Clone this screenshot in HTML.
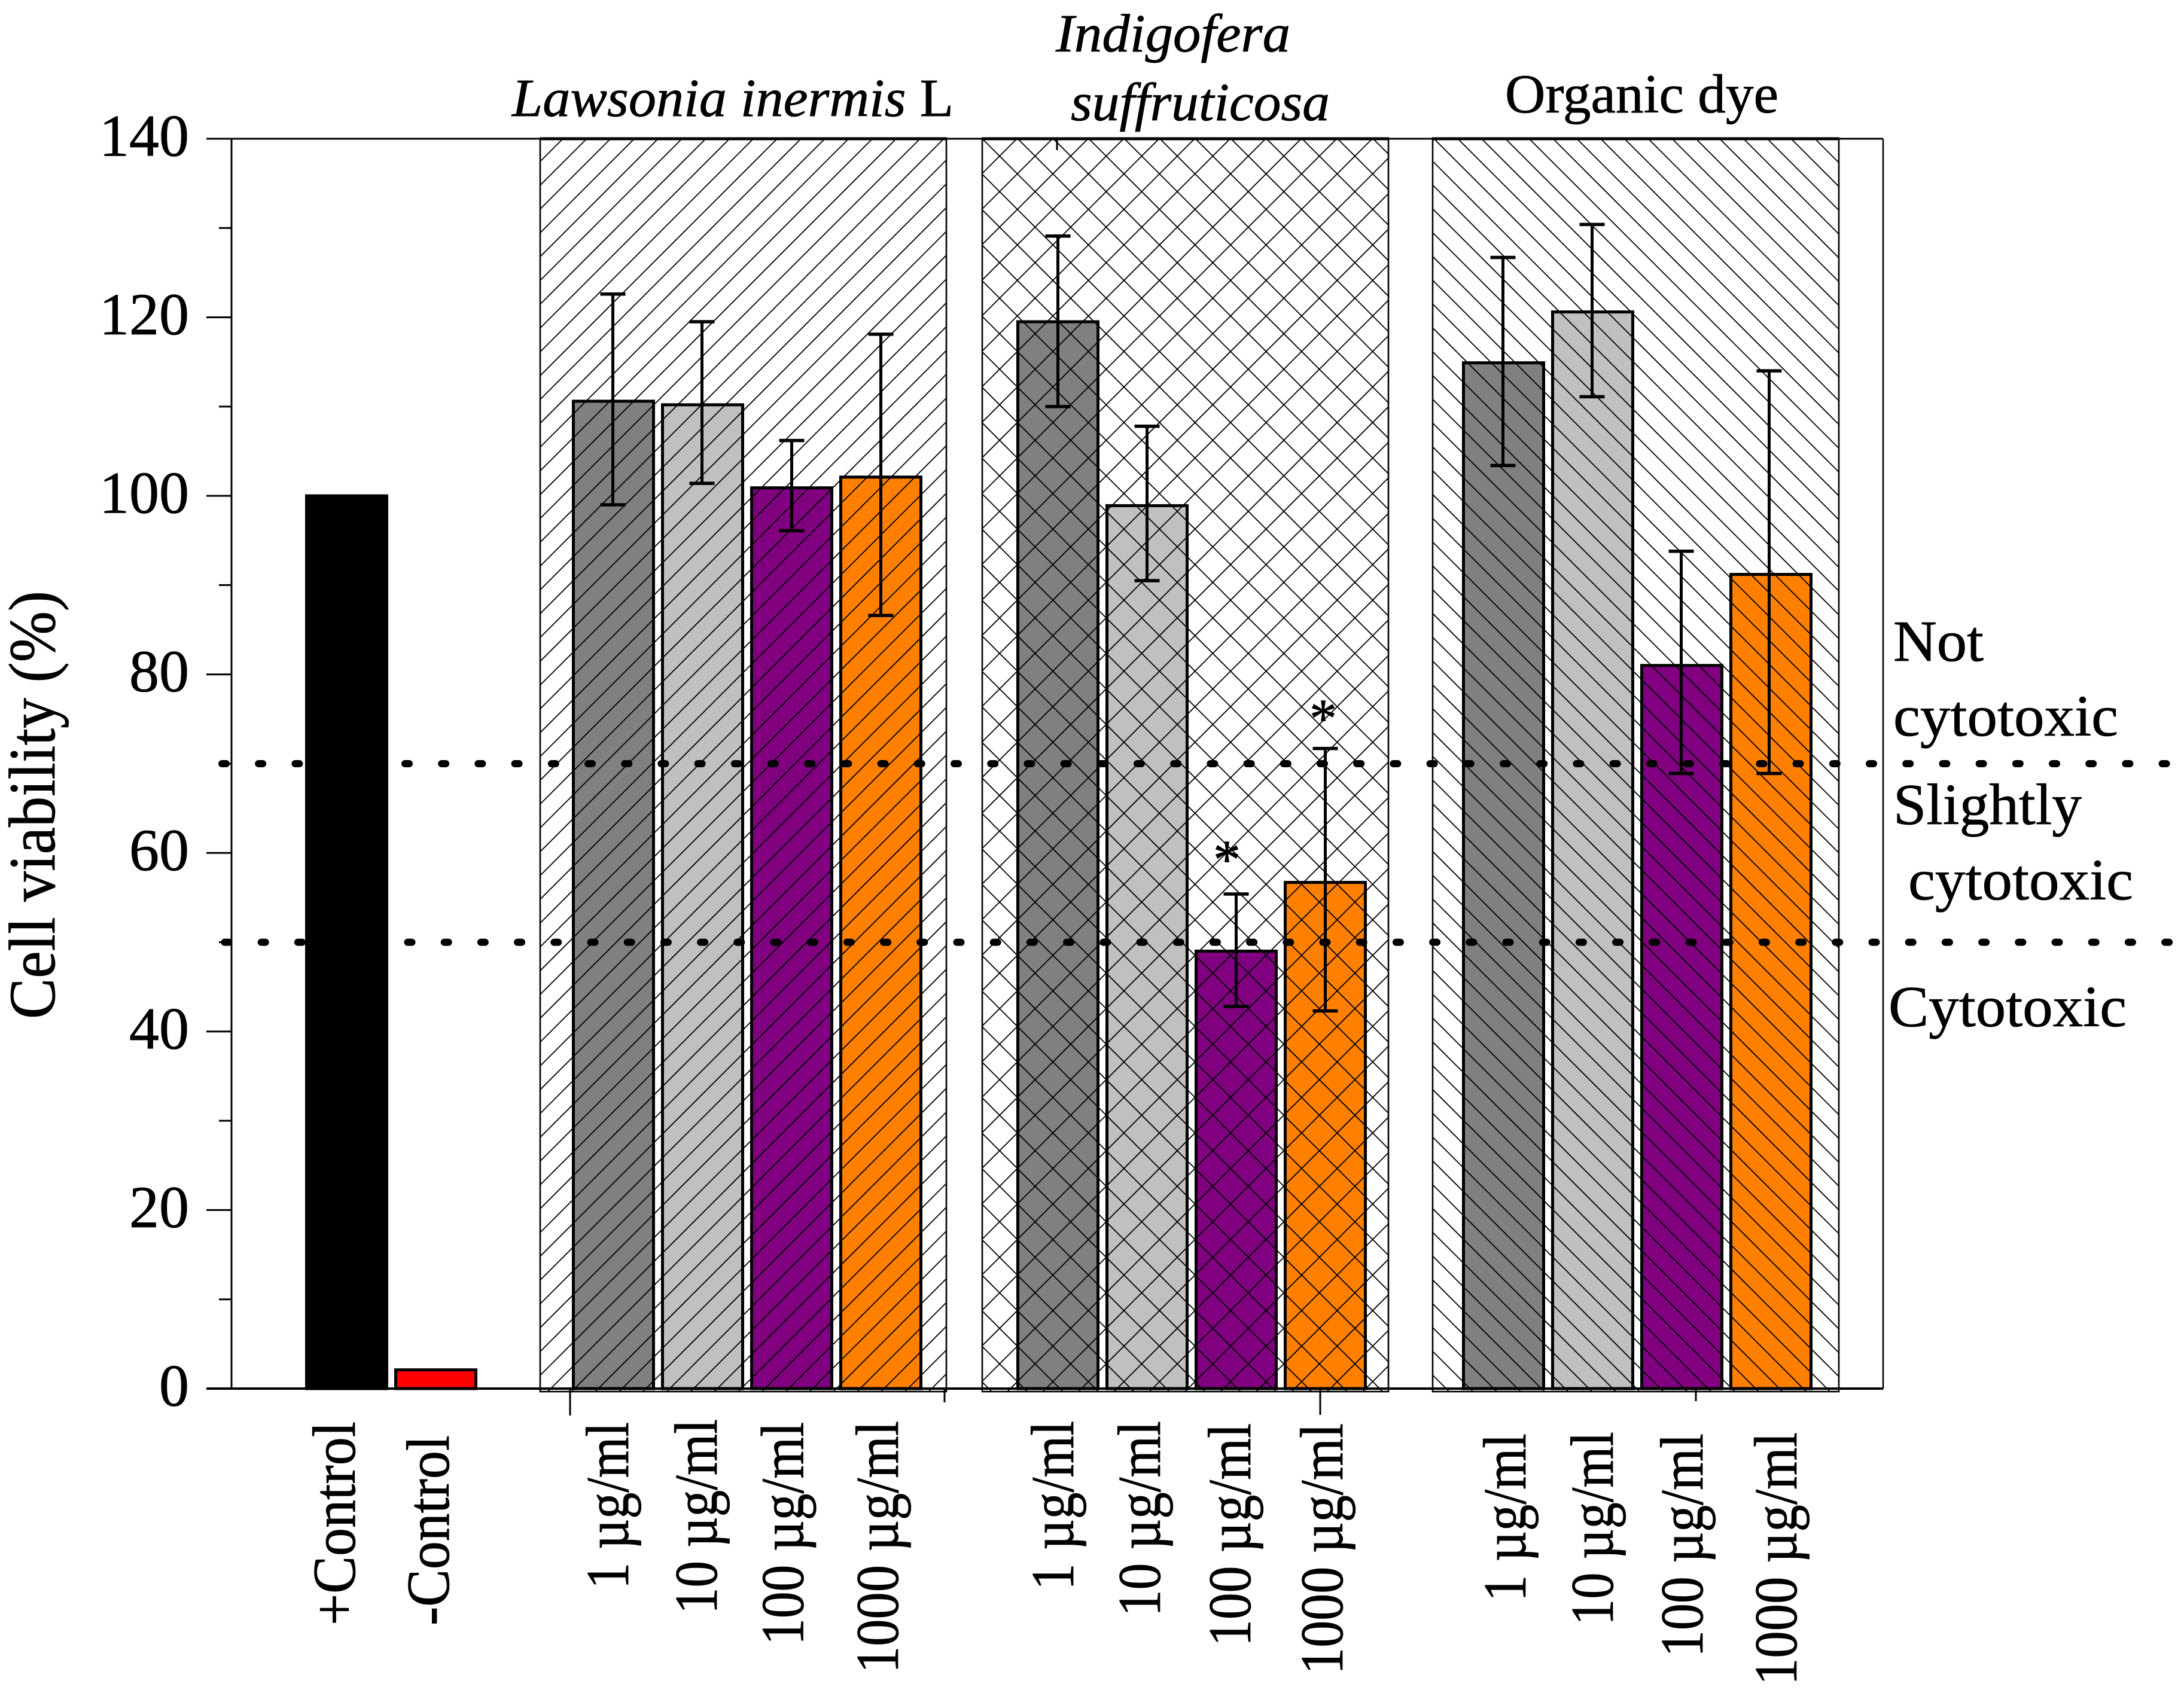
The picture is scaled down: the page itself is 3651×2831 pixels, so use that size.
<!DOCTYPE html>
<html lang="en">
<head>
<meta charset="utf-8">
<title>Cell viability chart</title>
<style>
  html, body { margin: 0; padding: 0; background: #fff; }
  svg { display: block; }
  text { font-family: "Liberation Serif", serif; fill: #000; stroke: #000; stroke-width: 0.8px; }
</style>
</head>
<body>
<svg id="chart" xmlns="http://www.w3.org/2000/svg" width="3651" height="2831" viewBox="0 0 3651 2831">
  <rect x="0" y="0" width="3651" height="2831" fill="#fff"/>
  <defs>
    <clipPath id="clip-0"><rect x="902" y="232" width="681" height="2095"/></clipPath>
    <clipPath id="clip-1"><rect x="1641" y="232" width="681" height="2095"/></clipPath>
    <clipPath id="clip-2"><rect x="2394" y="232" width="681" height="2095"/></clipPath>
  </defs>
  <g id="layer-bars"></g>
  <g id="layer-hatch"></g>
  <g id="layer-axes"></g>
  <g id="layer-err"></g>
  <g id="layer-thresholds"></g>
  <g id="layer-labels"></g>

  <text x="91" y="1704" font-size="110" textLength="716" lengthAdjust="spacingAndGlyphs" transform="rotate(-90 91 1704)">Cell viability (%)</text>

  <text x="856" y="194" font-size="90" textLength="738" lengthAdjust="spacingAndGlyphs"><tspan font-style="italic">Lawsonia inermis </tspan><tspan>L</tspan></text>
  <text x="1765" y="86" font-size="90" font-style="italic" textLength="392" lengthAdjust="spacingAndGlyphs">Indigofera</text>
  <text x="1790" y="201" font-size="90" font-style="italic" textLength="433" lengthAdjust="spacingAndGlyphs">suffruticosa</text>
  <text x="2516" y="188" font-size="92" textLength="457" lengthAdjust="spacingAndGlyphs">Organic dye</text>

  <text x="3165" y="1105" font-size="98" textLength="151" lengthAdjust="spacingAndGlyphs">Not</text>
  <text x="3165" y="1230" font-size="98" textLength="376" lengthAdjust="spacingAndGlyphs">cytotoxic</text>
  <text x="3165" y="1378" font-size="98" textLength="315" lengthAdjust="spacingAndGlyphs">Slightly</text>
  <text x="3190" y="1504" font-size="98" textLength="376" lengthAdjust="spacingAndGlyphs">cytotoxic</text>
  <text x="3157" y="1716" font-size="98" textLength="398" lengthAdjust="spacingAndGlyphs">Cytotoxic</text>

  <text x="2051" y="1468" font-size="92" text-anchor="middle">*</text>
  <text x="2212" y="1232" font-size="92" text-anchor="middle">*</text>
</svg>

<script>
// ---- chart data ----
const controlLabels = ['+Control', '-Control'];
const controlValues = [100, 2.1];
const doseLabels = ['1 µg/ml', '10 µg/ml', '100 µg/ml', '1000 µg/ml'];
const groupNames = ['lawsonia', 'indigofera', 'organic-dye'];
const lawsoniaMeans = [110.6, 110.2, 100.9, 102.1];
const lawsoniaHigh = [122.6, 119.5, 106.2, 118.1];
const lawsoniaLow = [99.0, 101.4, 96.1, 86.6];
const indigoferaMeans = [119.5, 98.9, 49.0, 56.7];
const indigoferaHigh = [129.1, 107.8, 55.4, 71.7];
const indigoferaLow = [110.0, 90.5, 42.8, 42.3];
const organicMeans = [114.9, 120.6, 81.0, 91.2];
const organicHigh = [126.7, 130.4, 93.8, 114.0];
const organicLow = [103.4, 111.1, 68.9, 68.9];
const yMajorTicks = [0, 20, 40, 60, 80, 100, 120, 140];
const yMinorTicks = [10, 30, 50, 70, 90, 110, 130];
const thresholds = [70, 50];
const barColors = ['#808080', '#c0c0c0', '#800080', '#ff8000'];
const controlColors = ['#000000', '#ff0000'];

// ---- axis functions and layout ----
const plotLeft = 387, plotRight = 3148, plotTop = 232, plotBottom = 2322;
const yMax = 140;
function y(v) { return plotBottom - v * (plotBottom - plotTop) / yMax; }
const slotStep = 149, barOuter = 139, barStroke = 5;
const controlStart = 510;
const groupStarts = [956, 1699, 2444];
function barLeft(start, i) { return start + i * slotStep; }
function barCenter(start, i) { return barLeft(start, i) + barOuter / 2; }

const panelLefts = [902, 1641, 2394];
const panelWidth = 681, panelBottom = 2327;
const hatchModes = ['up', 'cross', 'down'];
const hatchSpacing = [39.8, 59.4, 39.8];
const hatchPhase = [1173, 1932, 2205];
const hatchPhase2 = [0, 1410, 0];

const NS = 'http://www.w3.org/2000/svg';
function make(tag, parent, props) {
  const el = document.createElementNS(NS, tag);
  for (const k in props) el.setAttribute(k, props[k]);
  parent.appendChild(el);
  return el;
}
const layerBars = document.getElementById('layer-bars');
const layerHatch = document.getElementById('layer-hatch');
const layerAxes = document.getElementById('layer-axes');
const layerErr = document.getElementById('layer-err');
const layerThresholds = document.getElementById('layer-thresholds');
const layerLabels = document.getElementById('layer-labels');

function drawBar(name, left, value, color) {
  const top = y(value);
  const el = make('rect', layerBars, {
    x: left + barStroke / 2, y: top,
    width: barOuter - barStroke, height: plotBottom - top,
    fill: color, stroke: '#000', 'stroke-width': barStroke
  });
  
  
}

// control bars
controlValues.forEach(function (v, i) {
  drawBar('bar-control-' + (i + 1), barLeft(controlStart, i), v, controlColors[i]);
});

// treatment bars and error bars
const groupMeans = [lawsoniaMeans, indigoferaMeans, organicMeans];
const groupHigh = [lawsoniaHigh, indigoferaHigh, organicHigh];
const groupLow = [lawsoniaLow, indigoferaLow, organicLow];
const stemNudge = [[-1, -1, 0, 0], [0, 0, 0, 0], [-1, -1, -1, -3]];
groupMeans.forEach(function (means, g) {
  means.forEach(function (v, i) {
    drawBar('bar-' + groupNames[g] + '-' + (i + 1), barLeft(groupStarts[g], i), v, barColors[i]);
    const cx = barCenter(groupStarts[g], i) + stemNudge[g][i];
    const hi = y(groupHigh[g][i]);
    const lo = y(groupLow[g][i]);
    const stem = make('line', layerErr, { x1: cx, x2: cx, y1: hi, y2: lo, stroke: '#000', 'stroke-width': 5 });
    
    
    const capA = make('line', layerErr, { x1: cx - 21, x2: cx + 21, y1: hi, y2: hi, stroke: '#000', 'stroke-width': 5.5 });
    
    
    const capB = make('line', layerErr, { x1: cx - 21, x2: cx + 21, y1: lo, y2: lo, stroke: '#000', 'stroke-width': 5.5 });
    
    
  });
});

// hatched panels
panelLefts.forEach(function (left, p) {
  const group = make('g', layerHatch, { 'clip-path': 'url(#clip-' + p + ')', stroke: '#000', 'stroke-width': 1.8 });
  
  
  const h = panelBottom - plotTop;
  const s = hatchSpacing[p];
  const mode = hatchModes[p];
  if (mode === 'up' || mode === 'cross') {
    for (let c = hatchPhase[p] - 40 * s; c < left + panelWidth + panelBottom + s; c += s) {
      if (c < left + plotTop) continue;
      const l = make('line', group, { x1: c - plotTop, y1: plotTop, x2: c - panelBottom, y2: panelBottom });
      
      
    }
  }
  if (mode === 'down' || mode === 'cross') {
    const base = mode === 'cross' ? hatchPhase2[p] : hatchPhase[p];
    for (let c = base - 60 * s; c < left + panelWidth - plotTop + s; c += s) {
      if (c + panelBottom < left) continue;
      const l = make('line', group, { x1: c + plotTop, y1: plotTop, x2: c + panelBottom, y2: panelBottom });
      
      
    }
  }
  const frame = make('rect', layerHatch, { x: left + 1, y: plotTop, width: panelWidth - 2, height: h, fill: 'none', stroke: '#000', 'stroke-width': 2.6 });
  
  
  const topEdge = make('line', layerHatch, { x1: left, x2: left + panelWidth, y1: plotTop, y2: plotTop, stroke: '#000', 'stroke-width': 5 });
  
  
});

// axes
const axisTop = make('line', layerAxes, { x1: 345, x2: plotRight, y1: plotTop, y2: plotTop, stroke: '#000', 'stroke-width': 3 });


const axisBottom = make('line', layerAxes, { x1: 345, x2: plotRight, y1: plotBottom, y2: plotBottom, stroke: '#000', 'stroke-width': 4 });


const axisLeft = make('line', layerAxes, { x1: plotLeft, x2: plotLeft, y1: plotTop, y2: plotBottom, stroke: '#000', 'stroke-width': 3 });


const axisRight = make('line', layerAxes, { x1: plotRight, x2: plotRight, y1: plotTop, y2: plotBottom, stroke: '#000', 'stroke-width': 2.5 });



yMajorTicks.forEach(function (v) {
  const t = make('line', layerAxes, { x1: 345, x2: plotLeft, y1: y(v), y2: y(v), stroke: '#000', 'stroke-width': v === 0 ? 4 : 3 });
  
  
  const lab = make('text', layerLabels, { x: 316, y: y(v) + 28.5, 'font-size': 100, 'text-anchor': 'end' });
  lab.textContent = String(v);
  
  
});
yMinorTicks.forEach(function (v) {
  const t = make('line', layerAxes, { x1: 366, x2: plotLeft, y1: y(v), y2: y(v), stroke: '#000', 'stroke-width': 3 });
  
  
});

// stray x-axis tick marks of the original figure
const xTickFrom = [953, 1579, 2207, 2835];
const xTickLength = [45, 23, 44, 21];
xTickFrom.forEach(function (tx, i) {
  const t = make('line', layerAxes, { x1: tx, x2: tx, y1: plotBottom, y2: plotBottom + xTickLength[i], stroke: '#000', 'stroke-width': 3 });
  
  
});
const topTick = make('line', layerAxes, { x1: 1767, x2: 1767, y1: plotTop, y2: plotTop + 19, stroke: '#000', 'stroke-width': 3 });



// threshold lines
const thresholdStart = [371, 375.5];
thresholds.forEach(function (v, i) {
  const l = make('line', layerThresholds, {
    x1: thresholdStart[i], x2: 3651, y1: y(v), y2: y(v),
    stroke: '#000', 'stroke-width': 12, 'stroke-linecap': 'round', 'stroke-dasharray': '7 54.2'
  });
  
  
});

// category labels: rotated, baseline nudge relative to each bar centre
function drawLabel(name, text, bx, by, length) {
  const t = make('text', layerLabels, {
    x: bx, y: by, 'font-size': 102,
    textLength: length, lengthAdjust: 'spacingAndGlyphs',
    transform: 'rotate(-90 ' + bx + ' ' + by + ')'
  });
  t.textContent = text;
  
  
}
const controlLabelX = [593, 750];
const controlLabelBottom = [2718, 2718];
const controlLabelLength = [341, 318];
controlLabels.forEach(function (text, i) {
  drawLabel('x-label-control-' + (i + 1), text, controlLabelX[i], controlLabelBottom[i], controlLabelLength[i]);
});
const doseLabelNudge = [[24.5, 23.5, 19, 28.5], [25.5, 21.5, 23.5, 28.5], [36.5, 33.5, 34.5, 42.5]];
const doseLabelBottom = [[2657, 2699, 2751, 2798], [2659, 2703, 2753, 2800], [2678, 2718, 2771, 2818]];
const doseLabelLength = [[279, 326, 373, 422], [283, 327, 373, 420], [281, 324, 374, 423]];
groupStarts.forEach(function (start, g) {
  doseLabels.forEach(function (text, i) {
    drawLabel('x-label-' + groupNames[g] + '-' + (i + 1), text, barCenter(start, i) + doseLabelNudge[g][i], doseLabelBottom[g][i], doseLabelLength[g][i]);
  });
});
</script>
</body>
</html>
